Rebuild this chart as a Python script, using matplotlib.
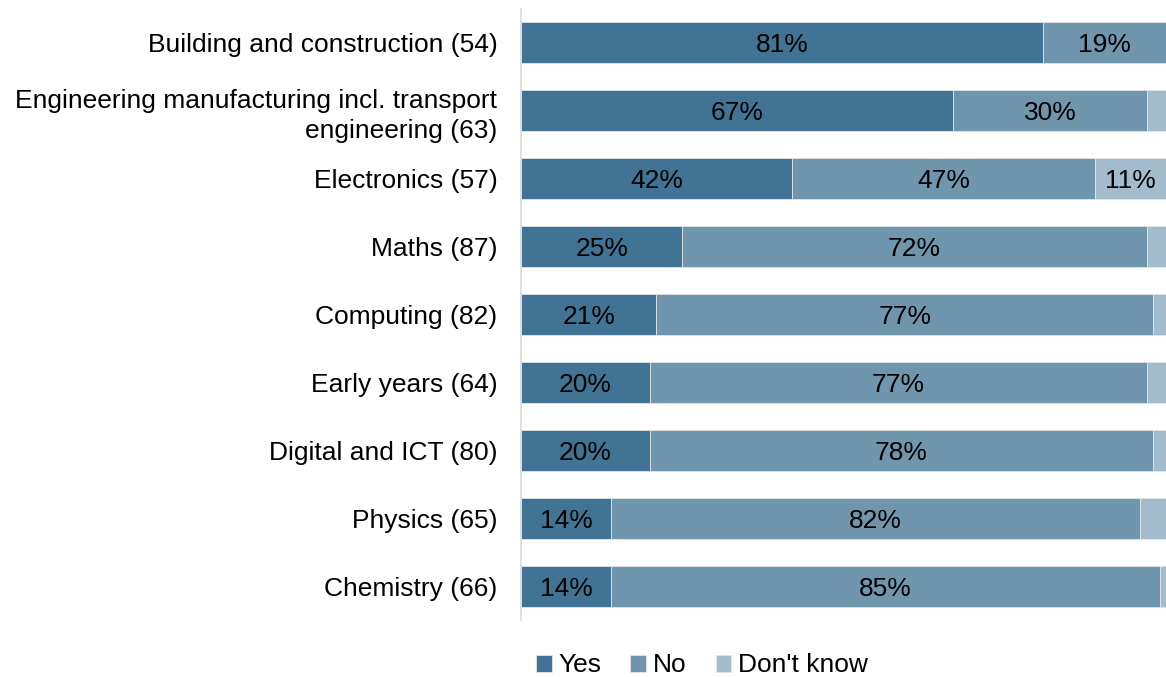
import numpy as np
import matplotlib.pyplot as plt

categories = [
    "Building and construction (54)",
    "Engineering manufacturing incl. transport\nengineering (63)",
    "Electronics (57)",
    "Maths (87)",
    "Computing (82)",
    "Early years (64)",
    "Digital and ICT (80)",
    "Physics (65)",
    "Chemistry (66)",
]
yes = [81, 67, 42, 25, 21, 20, 20, 14, 14]
no = [19, 30, 47, 72, 77, 77, 78, 82, 85]
dont_know = [0, 3, 11, 3, 2, 3, 2, 4, 1]

series_names = ["Yes", "No", "Don't know"]
colors = ["#417394", "#7096ae", "#a3bccb"]


def main():
    plt.rcParams["font.family"] = ["Liberation Sans", "DejaVu Sans"]
    fig = plt.figure(figsize=(11.66, 6.77), dpi=100)
    ax = fig.add_axes([0.4468, 0.0835, 0.5532, 0.9039])

    y = np.arange(len(categories))
    left = np.zeros(len(categories))
    for name, vals, color in zip(series_names, [yes, no, dont_know], colors):
        vals = np.array(vals, dtype=float)
        ax.barh(y, vals, left=left, height=0.6, color=color,
                edgecolor="#dfe6eb", linewidth=0.6, label=name)
        for yi, l, v in zip(y, left, vals):
            if v >= 5:
                ax.text(l + v / 2, yi, f"{v:.0f}%", ha="center",
                        va="center_baseline", fontsize=19, color="black")
        left += vals

    ax.set_xlim(0, 100)
    ax.set_ylim(len(categories) - 0.5, -0.5)
    ax.set_yticks(y)
    ax.set_yticklabels(categories, fontsize=19, linespacing=1.3)
    ax.tick_params(axis="y", length=0, pad=17)
    ax.set_xticks([])
    for side in ["top", "right", "bottom"]:
        ax.spines[side].set_visible(False)
    ax.spines["left"].set_color("#d9d9d9")
    ax.spines["left"].set_linewidth(1.2)

    fig.legend(loc="center", bbox_to_anchor=(0.602, 0.017), ncol=3, frameon=False,
               fontsize=19, handlelength=0.6, handleheight=0.6,
               handletextpad=0.25, columnspacing=1.1)

    fig.savefig("out.png", dpi=100)


if __name__ == "__main__":
    main()
